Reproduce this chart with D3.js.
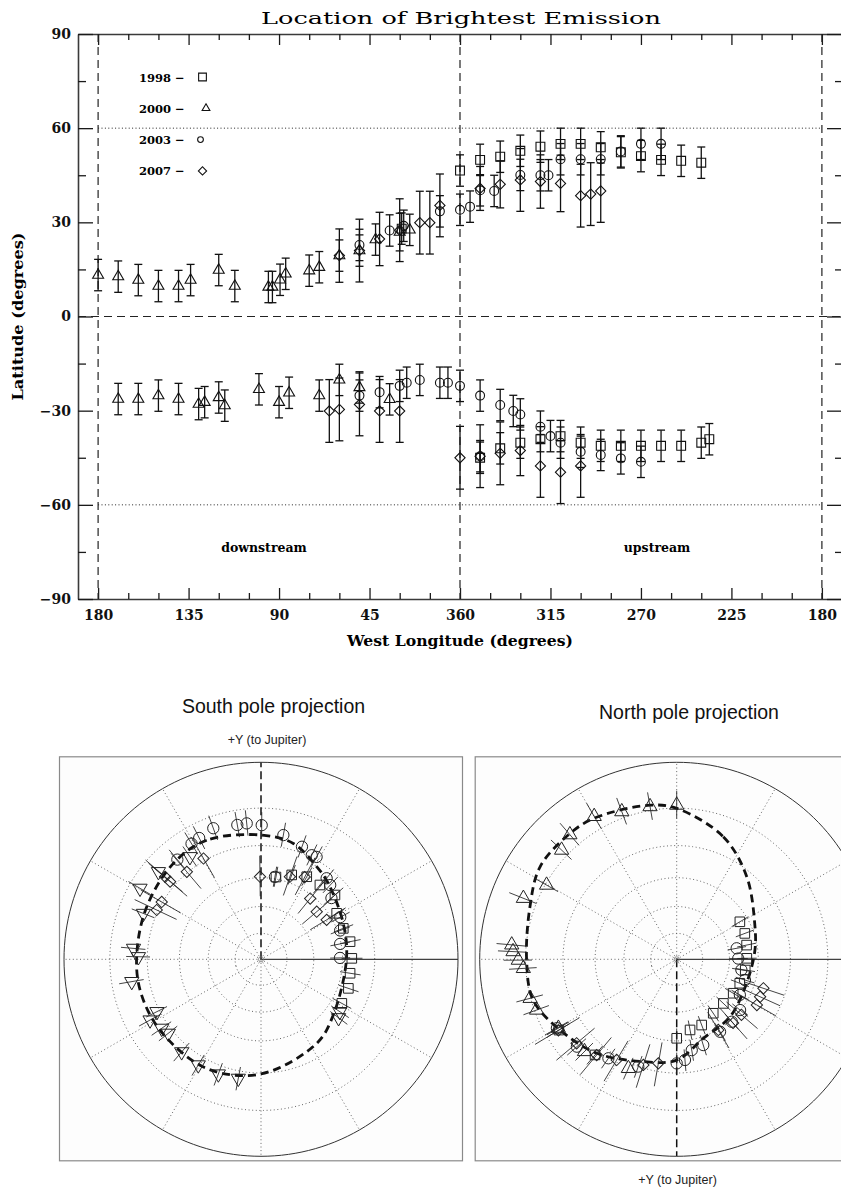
<!DOCTYPE html>
<html>
<head>
<meta charset="utf-8">
<script src="https://cdn.jsdelivr.net/npm/d3@7"></script>
<style>
  body { margin: 0; background: #fff; }
</style>
</head>
<body>
<div id="chart"></div>
<script>
// ---------------- data ----------------
const years = ['1998', '2000', '2003', '2007'];

// tick labels of the top panel (west longitude, unwrapped: 0..180 downstream, 0..-180 upstream)
const lonMajor = [180, 135, 90, 45, 0, -45, -90, -135, -180];
const latMajor = [-90, -60, -30, 0, 30, 60, 90];
const lonSeparators = [180, 0, -180];
const latDotted = [60, -60];

// brightest emission [west longitude, latitude, error]
const em1998 = [
  [29, 28, 5],
  [360, 46.5, 5], [350, 49.9, 5], [340, 50.9, 5], [330, 52.8, 5], [320, 54.1, 5], [310, 55, 5],
  [300, 55, 5], [290, 53.9, 5], [280, 52.3, 5], [270, 51.1, 5], [260, 49.9, 5], [250, 49.6, 5], [240, 49, 5],
  [350, -45, 5], [340, -42, 5], [330, -40.2, 5], [320, -39.1, 4], [310, -38.1, 5], [300, -40.2, 5],
  [290, -41.2, 5], [280, -41.2, 5], [270, -41.2, 5], [260, -41.2, 5], [250, -41.2, 5], [240, -40.2, 5], [236, -39.1, 5]
];
const em2000 = [
  [180, 13.2, 5], [170, 12.7, 5], [160, 11.6, 5], [150, 9.7, 5], [140, 9.7, 5], [134, 11.6, 5], [120, 14.8, 5],
  [112, 9.7, 5], [95.3, 9.4, 5], [93.3, 9.4, 5], [89.5, 11.7, 5], [86.7, 13.6, 5], [75, 14.6, 5], [70, 15.7, 5],
  [60, 19.4, 5], [50, 21, 5], [42, 24.5, 5], [30, 26.9, 6], [25, 27.6, 5],
  [170, -26.3, 5], [160, -26.3, 5], [150, -25.2, 5], [140, -26.3, 5], [130, -27.9, 5], [127, -27.3, 5],
  [120, -25.8, 5], [117, -28.4, 5], [100, -23.2, 5], [90, -27.3, 5], [85, -24.3, 5], [70, -25.2, 5],
  [60, -20.2, 5], [50, -22.6, 5], [35, -26.4, 5]
];
const em2003 = [
  [50, 22.8, 5], [35, 27.4, 5], [28, 28.9, 5], [10, 33.5, 5], [360, 34, 5], [355, 35, 5], [350, 40.2, 5],
  [343, 40, 5], [330, 45.1, 5], [320, 45, 5], [316, 45, 5], [310, 50.1, 5], [300, 50.1, 5], [290, 50.1, 5],
  [280, 52.6, 5], [270, 55, 5], [260, 55, 5],
  [50, -25.2, 5], [40, -24.1, 5], [30, -22.1, 5], [26.5, -21.1, 5], [20, -20.2, 5], [10, -21.1, 5],
  [6, -21.1, 5], [360, -22.1, 5], [350, -25.2, 5], [350, -44.5, 5], [340, -28.2, 5], [333.5, -30.1, 5],
  [330, -31.2, 5], [320, -35.1, 5], [315, -38.1, 5], [310, -40.2, 5], [300, -43.1, 5], [290, -44.1, 5],
  [280, -45.2, 5], [270, -46.3, 5]
];
const em2007 = [
  [60, 19.4, 8.5], [50, 21, 10], [40, 24.7, 8.5], [30, 27.5, 10], [20, 29.9, 10], [15, 29.9, 10],
  [10, 35.4, 10], [350, 40.8, 7], [340, 42.1, 7.5], [330, 43.5, 10], [320, 43, 8.5], [310, 42.4, 9],
  [300, 38.5, 10], [295, 39, 10], [290, 40, 10],
  [65, -30.1, 10], [60, -29.6, 10], [50, -28, 10], [40, -30.1, 10], [30, -30.1, 10], [360, -45, 10],
  [350, -44.5, 10], [340, -43.6, 10], [330, -42.7, 8], [320, -47.6, 10], [310, -49.6, 10], [300, -47.6, 10]
];

// polar projections [west longitude, latitude]
const south1998 = [[349.7, -44], [340, -41], [331, -38.8], [321.6, -38.6], [311, -37.1], [301.3, -41.6],
  [290.6, -41.9], [281.2, -40.5], [270.6, -40.5], [261.1, -40.8], [251.6, -39.9], [241.4, -39.9]];
const south2000 = [[236.4, -38.7], [233, -37.5], [59.6, -19.1], [49.5, -21.2], [34.7, -25.3], [68.7, -24.7],
  [85.1, -24], [88.8, -26.2], [99.8, -22.7], [116.7, -28.8], [118.7, -24.6], [124.8, -26.9], [128.6, -27.9],
  [139.4, -26.5], [149.3, -26.1], [159.6, -26.3], [169.2, -26.8]];
const south2003 = [[10, -20.6], [6, -20.5], [359.7, -21.5], [349.8, -24.7], [340, -27.4], [334, -29.1],
  [331.5, -28.8], [321, -34.2], [317, -35.5], [311, -39.3], [298, -41], [290, -43.7], [281, -45.5],
  [271, -46.3], [20, -19.4], [27, -20.7], [31, -21.2], [40, -23.1], [350.4, -44]];
const south2007 = [[0.7, -44.5], [340.7, -42.1], [332, -39.4], [321, -46.7], [310.5, -49.2], [301, -47.5],
  [29.7, -29], [40.3, -29.6], [49.3, -24.6], [49.5, -27.5], [60, -29.6], [64.7, -29.3]];
const southOval = [[0, -25.5], [24.5, -22.8], [42.4, -23.2], [65.3, -24.9], [87, -25.5], [104.2, -25.3],
  [125, -25.9], [153.5, -26.5], [180, -29.6], [213.6, -35.8], [232.4, -40.3], [270, -43.1], [293.6, -41],
  [318.5, -35.5], [329, -32.5], [344.4, -27.2]];

const north1998 = [[0, 46.3], [349.3, 49.9], [339.2, 50.7], [325.9, 53.4], [313.4, 53.9], [301, 53],
  [290.8, 52.2], [239.3, 49.1], [249.2, 49.4], [258.5, 50.2], [269.2, 50.8], [278.9, 51.2], [59, 20.2], [40.5, 24.9]];
const north2000 = [[180, 13.9], [170.1, 13.6], [159.6, 12.7], [150, 10.1], [139.4, 10.4], [133.5, 12.3],
  [119.7, 15.5], [111.7, 10.1], [95, 9.9], [92.7, 10.5], [89.7, 12.4], [86.6, 14.1], [75.1, 14.8],
  [70.1, 15.8], [59.8, 20.4], [45, 23], [23.9, 27.6]];
const north2003 = [[60.1, 19.9], [48.8, 22.1], [34.6, 27.2], [19.7, 29.9], [0, 34.3], [355.3, 35.7],
  [350.6, 39.9], [342.8, 41], [329.1, 43.6], [318.6, 44.2], [308.7, 45.2], [279.3, 53.2], [259.6, 55.6],
  [269.3, 55.3], [286.9, 50.2], [299.4, 49.6]];
const north2007 = [[288.5, 40.2], [294.2, 40.2], [299.7, 39.8], [310.6, 43.2], [318.5, 43.3], [329.5, 44.8],
  [50, 22.9], [39.9, 25.3], [30.8, 28.5], [17.5, 31.3], [10, 33.6], [59, 20]];
const northOval = [[180, 15.1], [200.8, 22.7], [220.3, 32.4], [245.3, 42.9], [263.2, 46.4], [288.9, 48.9],
  [317.1, 46.6], [341.4, 44.1], [0, 35.8], [18.1, 32.7], [40.4, 25.9], [58.8, 20.6], [74.2, 15.7],
  [89.7, 15.4], [109.7, 13.3], [124.1, 10.1], [139.7, 10.1], [150.1, 10.7], [170.2, 13.1]];

const polarErr = {'1998': 5, '2000': 5, '2003': 5, '2007': 10};

// ---------------- shared helpers ----------------
const serif = "'DejaVu Serif', serif";
const sans = "'Liberation Sans', Arial, Helvetica, sans-serif";

// marker per year (diamond = rotated square)
const markers = {
  '1998': {type: d3.symbolSquare, size: 78, rot: 0},
  '2000': {type: d3.symbolTriangle, size: 52, rot: 0},
  '2003': {type: d3.symbolCircle, size: 62, rot: 0},
  '2007': {type: d3.symbolSquare, size: 52, rot: 45}
};

const svg = d3.select('#chart').append('svg')
    .attr('width', 841)
    .attr('height', 1192);

class LatitudePanel {

  constructor(_config, _data) {
    this.config = {
      svg: _config.svg,
      margin: {top: 34, left: 78},
      width: 764,
      height: 565,
      capWidth: 8
    };
    this.data = _data;
    this.initVis();
  }

  initVis() {
    let vis = this;
    const c = vis.config;

    vis.x = d3.scaleLinear().domain([190, -190]).range([0, c.width]);
    vis.y = d3.scaleLinear().domain([-90, 90]).range([c.height, 0]);
    // 0..180 stays, 180..360 folds to the upstream (negative) side
    vis.unwrap = lon => lon > 180 ? lon - 360 : lon;

    vis.g = c.svg.append('g')
        .attr('transform', `translate(${c.margin.left},${c.margin.top})`);

    vis.renderAxes();
    vis.renderGuides();
    vis.renderVis();
    vis.renderLegend();
  }

  renderAxes() {
    let vis = this;
    const c = vis.config;
    const lonMinor = d3.range(-180, 181, 15).filter(d => d % 45 !== 0);
    const latMinor = d3.range(-75, 76, 15).filter(d => d % 30 !== 0);
    const lonFmt = d => d > 0 ? d : 360 + d;
    const latFmt = d => d < 0 ? '\u2212' + (-d) : d;

    const add = (axis, tx, ty, cls) => vis.g.append('g')
        .attr('class', 'axis ' + cls)
        .attr('transform', `translate(${tx},${ty})`)
        .call(axis);

    add(d3.axisBottom(vis.x).tickValues(lonMajor).tickSize(-11).tickSizeOuter(0).tickPadding(11).tickFormat(lonFmt), 0, c.height, 'major');
    add(d3.axisBottom(vis.x).tickValues(lonMinor).tickSize(-6).tickFormat(''), 0, c.height, 'minor');
    add(d3.axisTop(vis.x).tickValues(lonMajor).tickSize(-11).tickSizeOuter(0).tickFormat(''), 0, 0, 'major');
    add(d3.axisTop(vis.x).tickValues(lonMinor).tickSize(-6).tickFormat(''), 0, 0, 'minor');
    add(d3.axisLeft(vis.y).tickValues(latMajor).tickSize(-15).tickSizeOuter(0).tickPadding(7).tickFormat(latFmt), 0, 0, 'major');
    add(d3.axisLeft(vis.y).tickValues(latMinor).tickSize(-8).tickFormat(''), 0, 0, 'minor');
    add(d3.axisRight(vis.y).tickValues(latMajor).tickSize(-15).tickSizeOuter(0).tickFormat(''), c.width, 0, 'major');
    add(d3.axisRight(vis.y).tickValues(latMinor).tickSize(-7).tickFormat(''), c.width, 0, 'minor');

    vis.g.selectAll('.axis.minor .domain').remove();
    vis.g.selectAll('.axis .domain').attr('stroke', '#3a3a3a').attr('stroke-width', 1.6);
    vis.g.selectAll('.axis .tick line').attr('stroke', '#1a1a1a').attr('stroke-width', 1.3);
    vis.g.selectAll('.axis')
        .attr('font-family', serif)
        .attr('font-size', 14)
        .attr('font-weight', 'bold');
    vis.g.selectAll('.axis text').attr('fill', '#111');

    // titles
    c.svg.append('text')
        .attr('x', c.margin.left + c.width / 2 + 1)
        .attr('y', 24)
        .attr('text-anchor', 'middle')
        .attr('font-family', serif)
        .attr('font-size', 17)
        .attr('textLength', 400)
        .attr('lengthAdjust', 'spacingAndGlyphs')
        .text('Location of Brightest Emission');

    c.svg.append('text')
        .attr('x', c.margin.left + vis.x(0))
        .attr('y', 646)
        .attr('text-anchor', 'middle')
        .attr('font-family', serif)
        .attr('font-size', 14)
        .attr('font-weight', 'bold')
        .attr('textLength', 226)
        .attr('lengthAdjust', 'spacingAndGlyphs')
        .text('West Longitude (degrees)');

    c.svg.append('text')
        .attr('transform', `translate(23,${c.margin.top + vis.y(0)}) rotate(-90)`)
        .attr('text-anchor', 'middle')
        .attr('font-family', serif)
        .attr('font-size', 14)
        .attr('font-weight', 'bold')
        .attr('textLength', 168)
        .attr('lengthAdjust', 'spacingAndGlyphs')
        .text('Latitude (degrees)');
  }

  renderGuides() {
    let vis = this;
    const c = vis.config;

    vis.g.selectAll('.sep').data(lonSeparators).join('line')
        .attr('class', 'sep')
        .attr('x1', d => vis.x(d)).attr('x2', d => vis.x(d))
        .attr('y1', vis.y(90)).attr('y2', vis.y(-90))
        .attr('stroke', '#222').attr('stroke-width', 1.2)
        .attr('stroke-dasharray', '8,5');

    vis.g.append('line')
        .attr('x1', 0).attr('x2', c.width)
        .attr('y1', vis.y(0)).attr('y2', vis.y(0))
        .attr('stroke', '#222').attr('stroke-width', 1.2)
        .attr('stroke-dasharray', '8,5');

    vis.g.selectAll('.dot60').data(latDotted).join('line')
        .attr('class', 'dot60')
        .attr('x1', vis.x(180)).attr('x2', vis.x(-180))
        .attr('y1', d => vis.y(d)).attr('y2', d => vis.y(d))
        .attr('stroke', '#222').attr('stroke-width', 1)
        .attr('stroke-dasharray', '1,2.4');

    const regions = [{text: 'downstream', lon: 97.5}, {text: 'upstream', lon: -98}];
    vis.g.selectAll('.region').data(regions).join('text')
        .attr('class', 'region')
        .attr('x', d => vis.x(d.lon))
        .attr('y', vis.y(-75))
        .attr('text-anchor', 'middle')
        .attr('font-family', serif)
        .attr('font-size', 12.5)
        .attr('font-weight', 'bold')
        .text(d => d.text);
  }

  renderVis() {
    let vis = this;
    const c = vis.config;

    years.forEach(year => {
      const rows = vis.data[year].map(([lon, lat, err]) => ({x: vis.x(vis.unwrap(lon)), lat, err}));
      const grp = vis.g.append('g').attr('class', 'year-' + year);

      grp.selectAll('.bar').data(rows).join('line')
          .attr('x1', d => d.x).attr('x2', d => d.x)
          .attr('y1', d => vis.y(d.lat - d.err)).attr('y2', d => vis.y(d.lat + d.err))
          .attr('stroke', '#111').attr('stroke-width', 1.3);

      grp.selectAll('.cap').data(rows.flatMap(d => [{x: d.x, v: d.lat - d.err}, {x: d.x, v: d.lat + d.err}]))
          .join('line')
          .attr('x1', d => d.x - c.capWidth / 2).attr('x2', d => d.x + c.capWidth / 2)
          .attr('y1', d => vis.y(d.v)).attr('y2', d => vis.y(d.v))
          .attr('stroke', '#111').attr('stroke-width', 1.3);

      const m = markers[year];
      grp.selectAll('.mark').data(rows).join('path')
          .attr('transform', d => `translate(${d.x},${vis.y(d.lat)}) rotate(${m.rot})`)
          .attr('d', d3.symbol().type(m.type).size(m.size))
          .attr('fill', 'none')
          .attr('stroke', '#111')
          .attr('stroke-width', 1.1);
    });
  }

  renderLegend() {
    let vis = this;
    const lg = vis.g.append('g').attr('transform', 'translate(61,43)');
    const row = lg.selectAll('g').data(years).join('g')
        .attr('transform', (d, i) => `translate(0,${i * 31.3})`);

    row.append('text')
        .attr('y', 4.5)
        .attr('font-family', serif)
        .attr('font-size', 11.5)
        .attr('font-weight', 'bold')
        .text(d => d + ' \u2212');

    const legendSize = {'1998': 60, '2000': 26, '2003': 26, '2007': 34};
    const legendDx = {'1998': 63.5, '2000': 67, '2003': 61.5, '2007': 63.5};
    row.append('path')
        .attr('transform', d => `translate(${legendDx[d]},0) rotate(${markers[d].rot})`)
        .attr('d', d => d3.symbol().type(markers[d].type).size(legendSize[d])())
        .attr('fill', 'none')
        .attr('stroke', '#111')
        .attr('stroke-width', 1.1);
  }
}

class PolarView {

  constructor(_config, _data) {
    this.config = {
      svg: _config.svg,
      pole: _config.pole,
      cx: _config.cx,
      cy: 959.3,
      radius: 197,
      title: _config.title,
      titleX: _config.titleX,
      titleY: _config.titleY,
      labelX: _config.labelX,
      labelY: _config.labelY
    };
    this.data = _data;
    this.initVis();
  }

  initVis() {
    let vis = this;
    const c = vis.config;
    vis.poleLat = c.pole === 'south' ? -90 : 90;

    vis.projection = d3.geoStereographic()
        .rotate([0, -vis.poleLat])
        .scale(c.radius)
        .translate([c.cx, c.cy])
        .clipAngle(90)
        .precision(0.1);
    vis.path = d3.geoPath(vis.projection);
    // west longitude -> east longitude used by d3
    vis.project = (w, lat) => vis.projection([-w, lat]);

    vis.g = c.svg.append('g');

    vis.g.append('rect')
        .attr('x', c.cx - 201.5).attr('y', c.cy - 202.5)
        .attr('width', 403).attr('height', 404)
        .attr('fill', '#fdfdfd')
        .attr('stroke', '#8a8a8a').attr('stroke-width', 1.2);

    vis.renderGrid();
    vis.renderVis();

    c.svg.append('text')
        .attr('x', c.titleX).attr('y', c.titleY)
        .attr('text-anchor', 'middle')
        .attr('font-family', sans)
        .attr('font-size', 19.5)
        .attr('fill', '#111')
        .text(c.title);

    c.svg.append('text')
        .attr('x', c.labelX).attr('y', c.labelY)
        .attr('text-anchor', 'middle')
        .attr('font-family', sans)
        .attr('font-size', 12.5)
        .attr('fill', '#222')
        .text('+Y (to Jupiter)');
  }

  renderGrid() {
    let vis = this;
    const grid = vis.g.append('g');
    const parallels = [15, 30, 45, 60, 75];

    grid.selectAll('.par').data(parallels).join('path')
        .attr('d', d => vis.path(d3.geoCircle().center([0, vis.poleLat]).radius(90 - d).precision(2)()))
        .attr('fill', 'none')
        .attr('stroke', '#555').attr('stroke-width', 0.9)
        .attr('stroke-dasharray', '1,2.6');

    const spokes = d3.range(0, 360, 30).map(lon => ({
      lon,
      style: lon === 0 ? 'jupiter' : lon === 90 ? 'solid' : 'dotted'
    }));
    grid.selectAll('.spoke').data(spokes).join('path')
        .attr('d', d => vis.path({type: 'LineString', coordinates: [[d.lon, vis.poleLat], [d.lon, 0]]}))
        .attr('fill', 'none')
        .attr('stroke', d => d.style === 'dotted' ? '#555' : '#111')
        .attr('stroke-width', d => d.style === 'dotted' ? 0.9 : d.style === 'jupiter' ? 1.5 : 1)
        .attr('stroke-dasharray', d => d.style === 'dotted' ? '1,2.6' : d.style === 'jupiter' ? '8,4' : null);

    grid.append('path')
        .attr('d', vis.path({type: 'Sphere'}))
        .attr('fill', 'none')
        .attr('stroke', '#333').attr('stroke-width', 1);

    grid.append('circle')
        .attr('cx', vis.config.cx).attr('cy', vis.config.cy).attr('r', 2.5)
        .attr('fill', 'none').attr('stroke', '#777').attr('stroke-width', 0.8);
  }

  renderVis() {
    let vis = this;
    const ovalPts = vis.data.oval.map(([w, lat]) => vis.project(w, lat));

    vis.g.append('path')
        .attr('d', d3.line().curve(d3.curveCatmullRomClosed)(ovalPts))
        .attr('fill', 'none')
        .attr('stroke', '#111').attr('stroke-width', 2.8)
        .attr('stroke-dasharray', '8,5');

    years.forEach(year => {
      const grp = vis.g.append('g');
      const err = polarErr[year];
      const rows = vis.data[year];

      grp.selectAll('.bar').data(rows).join('path')
          .attr('d', ([w, lat]) => vis.path({type: 'LineString', coordinates: [[-w, lat - err], [-w, lat + err]]}))
          .attr('fill', 'none')
          .attr('stroke', '#222').attr('stroke-width', 0.85);

      const m = markers[year];
      const flip = vis.config.pole === 'south' && year === '2000' ? 180 : m.rot;
      const sz = {'1998': 92, '2000': 88, '2003': 100, '2007': 64}[year];
      grp.selectAll('.mark').data(rows).join('path')
          .attr('transform', ([w, lat]) => {
            const p = vis.project(w, lat);
            return `translate(${p[0]},${p[1]}) rotate(${flip})`;
          })
          .attr('d', d3.symbol().type(m.type).size(sz))
          .attr('fill', 'none')
          .attr('stroke', '#222').attr('stroke-width', 1);
    });
  }
}

new LatitudePanel({svg}, {'1998': em1998, '2000': em2000, '2003': em2003, '2007': em2007});

new PolarView({
  svg, pole: 'south', cx: 261,
  title: 'South pole projection', titleX: 273.5, titleY: 713,
  labelX: 267, labelY: 744
}, {'1998': south1998, '2000': south2000, '2003': south2003, '2007': south2007, oval: southOval});

new PolarView({
  svg, pole: 'north', cx: 676.7,
  title: 'North pole projection', titleX: 689, titleY: 719,
  labelX: 677.5, labelY: 1184
}, {'1998': north1998, '2000': north2000, '2003': north2003, '2007': north2007, oval: northOval});
</script>
</body>
</html>
